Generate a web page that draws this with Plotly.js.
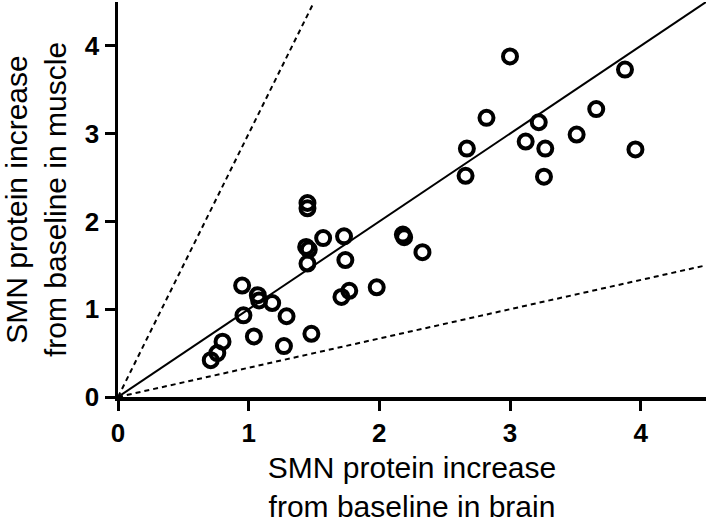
<!DOCTYPE html>
<html>
<head>
<meta charset="utf-8">
<script src="https://cdn.plot.ly/plotly-3.0.1.min.js"></script>
<style>html,body{margin:0;padding:0;background:#fff;}#chart{width:709px;height:523px;}</style>
</head>
<body>
<div id="chart"></div>
<script>
// SMN protein increase from baseline: brain (x) vs muscle (y)
var brainValues = [0.71, 0.76, 0.80, 0.95, 0.96, 1.04, 1.07, 1.08, 1.18, 1.29, 1.27,
  1.45, 1.45, 1.44, 1.46, 1.45, 1.57, 1.73, 1.74, 1.71, 1.77, 1.48, 1.98,
  2.18, 2.19, 2.33, 2.67, 2.66, 3.00, 2.82, 3.22, 3.12, 3.27, 3.26, 3.51, 3.66, 3.88, 3.96];
var muscleValues = [0.42, 0.50, 0.63, 1.27, 0.93, 0.69, 1.16, 1.10, 1.07, 0.92, 0.58,
  2.21, 2.15, 1.71, 1.68, 1.52, 1.81, 1.83, 1.56, 1.14, 1.21, 0.72, 1.25,
  1.85, 1.82, 1.65, 2.83, 2.52, 3.88, 3.18, 3.13, 2.91, 2.83, 2.51, 2.99, 3.28, 3.73, 2.82];

// Reference lines: identity, 3x and 1/3x
var identityX = [0, 4.5];
var identityY = [0, 4.5];
var upperX = [0, 1.5];
var upperY = [0, 4.5];
var lowerX = [0, 4.5];
var lowerY = [0, 1.5];

var tickValues = [0, 1, 2, 3, 4];
var tickLabels = ['0', '1', '2', '3', '4'];

var xTitle = 'SMN protein increase<br>from baseline in brain';
var yTitle = 'SMN protein increase<br>from baseline in muscle';

var traces = [
  {x: identityX, y: identityY, mode: 'lines', line: {color: '#000', width: 2}, hoverinfo: 'skip', showlegend: false},
  {x: upperX, y: upperY, mode: 'lines', line: {color: '#000', width: 2, dash: '5px,4px'}, hoverinfo: 'skip', showlegend: false},
  {x: lowerX, y: lowerY, mode: 'lines', line: {color: '#000', width: 2, dash: '5px,4px'}, hoverinfo: 'skip', showlegend: false},
  {x: brainValues, y: muscleValues, mode: 'markers', type: 'scatter',
   marker: {symbol: 'circle-open', size: 14, color: '#000', line: {color: '#000', width: 4}},
   showlegend: false}
];

var tickFont = {family: 'Liberation Sans, Arial, sans-serif', size: 26, color: '#000', weight: 'bold'};
var titleFont = {family: 'Liberation Sans, Arial, sans-serif', size: 30, color: '#000'};

var layout = {
  width: 709, height: 523,
  margin: {l: 118, r: 3, t: 2, b: 126},
  paper_bgcolor: '#fff', plot_bgcolor: '#fff',
  showlegend: false,
  xaxis: {
    range: [0, 4.5], tickmode: 'array', tickvals: tickValues, ticktext: tickLabels,
    showgrid: false, zeroline: false, showline: true, linecolor: '#000', linewidth: 3.5,
    ticks: 'outside', ticklen: 10, tickwidth: 3, tickcolor: '#000',
    tickfont: tickFont,
    title: {text: xTitle, font: titleFont, standoff: 16},
    automargin: false
  },
  yaxis: {
    range: [0, 4.5], tickmode: 'array', tickvals: tickValues, ticktext: tickLabels,
    showgrid: false, zeroline: false, showline: true, linecolor: '#000', linewidth: 3.5,
    ticks: 'outside', ticklen: 10, tickwidth: 3, tickcolor: '#000',
    tickfont: tickFont,
    title: {text: yTitle, font: titleFont, standoff: 15},
    automargin: false
  }
};

Plotly.newPlot('chart', traces, layout, {displayModeBar: false, staticPlot: true});
</script>
</body>
</html>
